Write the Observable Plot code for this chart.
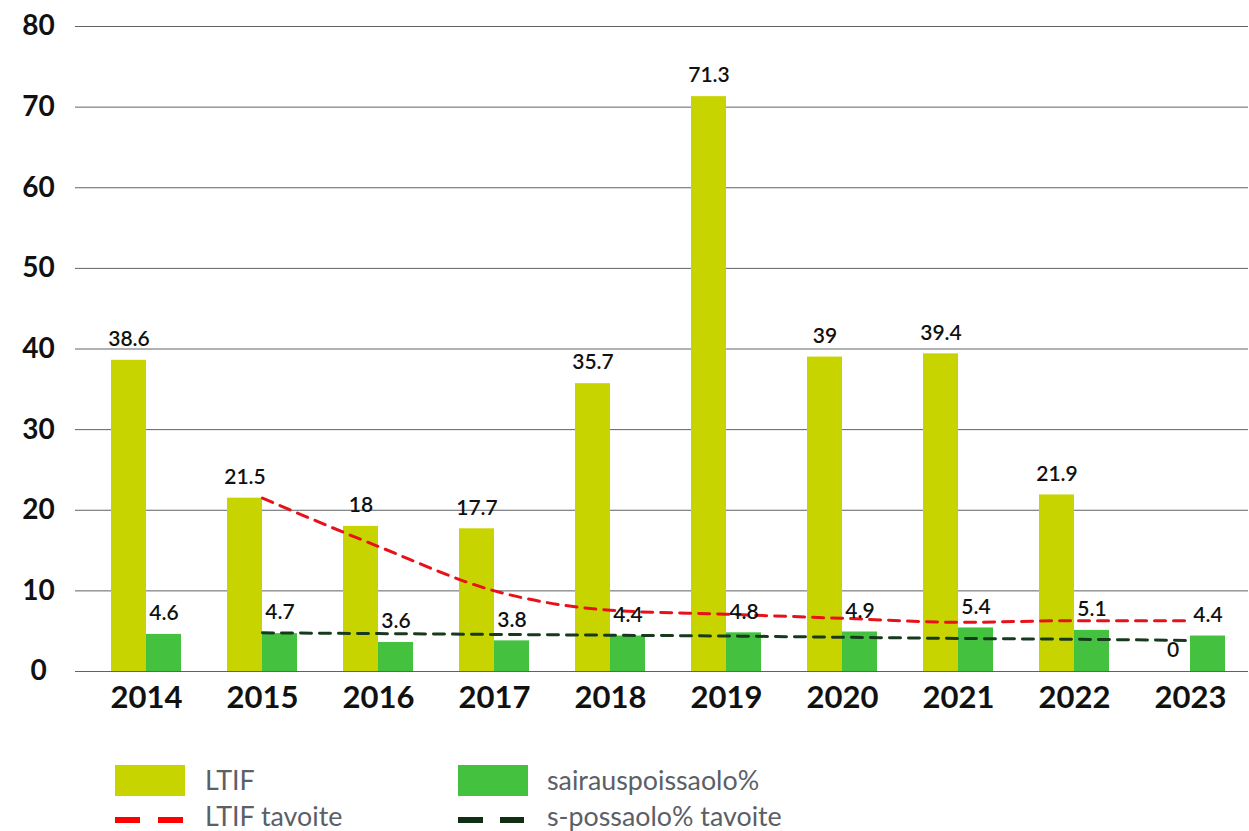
<!DOCTYPE html>
<html>
<head>
<meta charset="utf-8">
<script src="https://cdn.jsdelivr.net/npm/d3@7"></script>
<script src="https://cdn.jsdelivr.net/npm/@observablehq/plot@0.6"></script>
<style>
  html, body { margin: 0; padding: 0; background: #fff; }
  body { width: 1249px; height: 831px; position: relative; overflow: hidden; font-family: Lato, "Open Sans", sans-serif; }
  #chart { position: absolute; left: 0; top: 0; }
  .leg { position: absolute; font-family: Lato, sans-serif; font-size: 26.8px; color: #5a6066; line-height: 1; white-space: nowrap; }
  .sw { position: absolute; }
  .dash { position: absolute; height: 6px; }
</style>
</head>
<body>
<div id="chart"></div>
<div class="sw" style="left:115px;top:765px;width:70px;height:31px;background:#c8d400"></div>
<div class="leg" style="left:205px;top:767px">LTIF</div>
<div class="dash" style="left:115px;top:817px;width:25px;background:#ff0000"></div>
<div class="dash" style="left:158px;top:817px;width:25px;background:#ff0000"></div>
<div class="leg" style="left:205px;top:803px">LTIF tavoite</div>
<div class="sw" style="left:458px;top:765px;width:70px;height:31px;background:#44c23f"></div>
<div class="leg" style="left:547px;top:767px">sairauspoissaolo%</div>
<div class="dash" style="left:458px;top:817px;width:25px;background:#0f2e14"></div>
<div class="dash" style="left:500px;top:817px;width:24px;background:#0f2e14"></div>
<div class="leg" style="left:547px;top:803px">s-possaolo% tavoite</div>
<script>
const years = ["2014","2015","2016","2017","2018","2019","2020","2021","2022","2023"];
const ltif = [38.6, 21.5, 18, 17.7, 35.7, 71.3, 39, 39.4, 21.9, 0];
const sick = [4.6, 4.7, 3.6, 3.8, 4.4, 4.8, 4.9, 5.4, 5.1, 4.4];
const targetYears = ["2015","2016","2017","2018","2019","2020","2021","2022","2023"];
const ltifTarget = [21.5, 15.5, 10.0, 7.6, 7.1, 6.6, 6.1, 6.3, 6.3];
const sickTarget = [4.8, 4.7, 4.6, 4.5, 4.4, 4.25, 4.1, 4.0, 3.85];
const yTicks = [0, 10, 20, 30, 40, 50, 60, 70, 80];

const ltifData = years.map((y, i) => ({year: y, value: ltif[i]}));
const sickData = years.map((y, i) => ({year: y, value: sick[i]}));
const ltifTargetData = targetYears.map((y, i) => ({year: y, value: ltifTarget[i]}));
const sickTargetData = targetYears.map((y, i) => ({year: y, value: sickTarget[i]}));

const labelStyle = {fontSize: 21, fontWeight: 600, fill: "#111", fontFamily: "Lato, sans-serif"};

const chart = Plot.plot({
  width: 1249,
  height: 740,
  marginLeft: 87,
  marginRight: 1,
  marginTop: 26,
  marginBottom: 69,
  style: {fontFamily: "Lato, sans-serif", background: "#fff", overflow: "visible"},
  x: {domain: years, padding: 0, label: null},
  y: {domain: [0, 80], label: null},
  marks: [
    Plot.ruleY(yTicks, {stroke: "#5f6366", strokeWidth: 1, insetLeft: -12}),
    Plot.barY(ltifData, {x: "year", y: "value", fill: "#c8d400", insetLeft: 23, insetRight: 58}),
    Plot.barY(sickData, {x: "year", y: "value", fill: "#44c23f", insetLeft: 58, insetRight: 23}),
    Plot.line(ltifTargetData, {x: "year", y: "value", stroke: "#e8101a", strokeWidth: 3, strokeDasharray: "11,8", curve: "monotone-x"}),
    Plot.line(sickTargetData, {x: "year", y: "value", stroke: "#173a1c", strokeWidth: 3, strokeDasharray: "11,8", curve: "monotone-x"}),
    Plot.text(ltifData, {x: "year", y: "value", text: d => String(d.value), dx: -17.5, dy: -21, ...labelStyle}),
    Plot.text(sickData, {x: "year", y: "value", text: d => String(d.value), dx: 17.5, dy: -21, ...labelStyle}),
    Plot.axisX({tickSize: 0, tickPadding: 14, fontSize: 31, fontWeight: 700, fill: "#111", label: null}),
    Plot.axisY(yTicks, {tickSize: 0, tickPadding: 49, textAnchor: "middle", fontSize: 28, fontWeight: 700, fill: "#111", label: null})
  ]
});
document.getElementById("chart").appendChild(chart);
</script>
</body>
</html>
